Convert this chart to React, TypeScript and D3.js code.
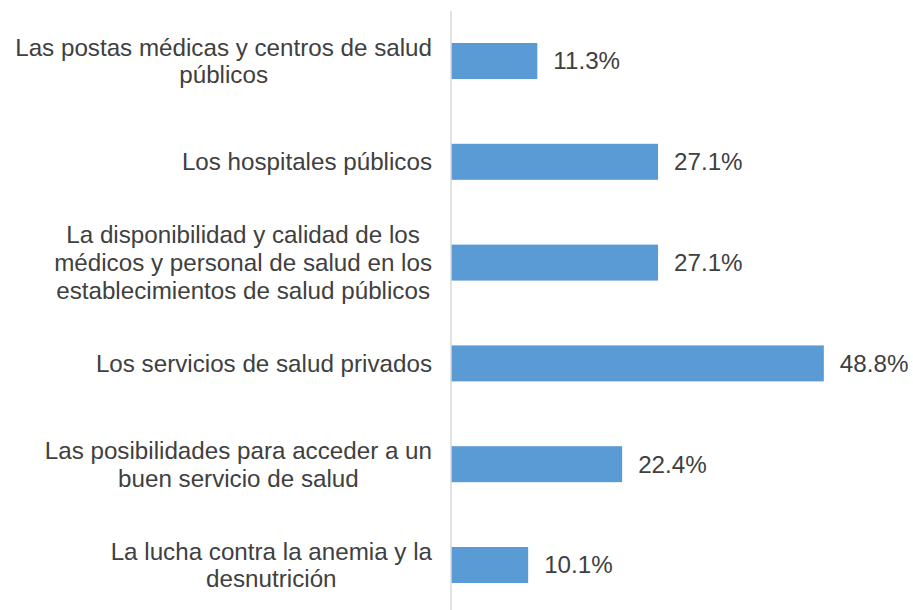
import React, { useEffect, useRef } from "react";
import * as d3 from "d3";

const categories: string[][] = [
  ["Las postas médicas y centros de salud", "públicos"],
  ["Los hospitales públicos"],
  ["La disponibilidad y calidad de los", "médicos y personal de salud en los", "establecimientos de salud públicos"],
  ["Los servicios de salud privados"],
  ["Las posibilidades para acceder a un", "buen servicio de salud"],
  ["La lucha contra la anemia y la", "desnutrición"],
];
const values: number[] = [11.3, 27.1, 27.1, 48.8, 22.4, 10.1];
const valueLabels: string[] = ["11.3%", "27.1%", "27.1%", "48.8%", "22.4%", "10.1%"];

const W = 913;
const H = 610;
const FONT = "'Liberation Sans', Arial, sans-serif";
const TEXT = "#404040";
const BAR = "#5B9BD5";

export default function App() {
  const ref = useRef<SVGSVGElement>(null);

  useEffect(() => {
    const svg = d3.select(ref.current);
    svg.selectAll("*").remove();
    const ids = categories.map((_, i) => String(i));
    const y = d3.scalePoint<string>().domain(ids).range([10.6, 615.4]).padding(0.5);
    const x = d3.scaleLinear().domain([0, 50]).range([451, 833]);
    const barH = 36;
    const lineH = 27.7;
    const fs = 24.2;

    // bars
    svg
      .selectAll("rect.bar")
      .data(values)
      .enter()
      .append("rect")
      .attr("class", "bar")
      .attr("x", x(0))
      .attr("y", (_, i) => (y(ids[i]) as number) - barH / 2)
      .attr("width", (d) => x(d) - x(0))
      .attr("height", barH)
      .attr("fill", BAR);

    // axis line
    svg
      .append("line")
      .attr("x1", x(0))
      .attr("x2", x(0))
      .attr("y1", 11)
      .attr("y2", 616)
      .attr("stroke", "#D9D9D9")
      .attr("stroke-width", 1.5);

    // value labels
    svg
      .selectAll("text.val")
      .data(values)
      .enter()
      .append("text")
      .attr("class", "val")
      .attr("x", (d) => x(d) + 16)
      .attr("y", (_, i) => y(ids[i]) as number)
      .attr("dy", "0.35em")
      .attr("font-family", FONT)
      .attr("font-size", fs)
      .attr("fill", TEXT)
      .text((_, i) => valueLabels[i]);

    // category labels
    categories.forEach((lines, i) => {
      const g = svg.append("g");
      const cy = y(ids[i]) as number;
      const n = lines.length;
      const texts = lines.map((ln, k) =>
        g
          .append("text")
          .attr("x", 0)
          .attr("y", cy + (k - (n - 1) / 2) * lineH)
          .attr("dy", "0.35em")
          .attr("text-anchor", "middle")
          .attr("font-family", FONT)
          .attr("font-size", fs)
          .attr("fill", TEXT)
          .text(ln)
      );
      const maxW = d3.max(texts, (t) => (t.node() as SVGTextElement).getComputedTextLength()) || 0;
      g.attr("transform", `translate(${432 - maxW / 2},0)`);
    });
  }, []);

  return (
    <svg
      ref={ref}
      width={W}
      height={H}
      style={{ position: "absolute", left: 0, top: 0, background: "#fff" }}
    />
  );
}
